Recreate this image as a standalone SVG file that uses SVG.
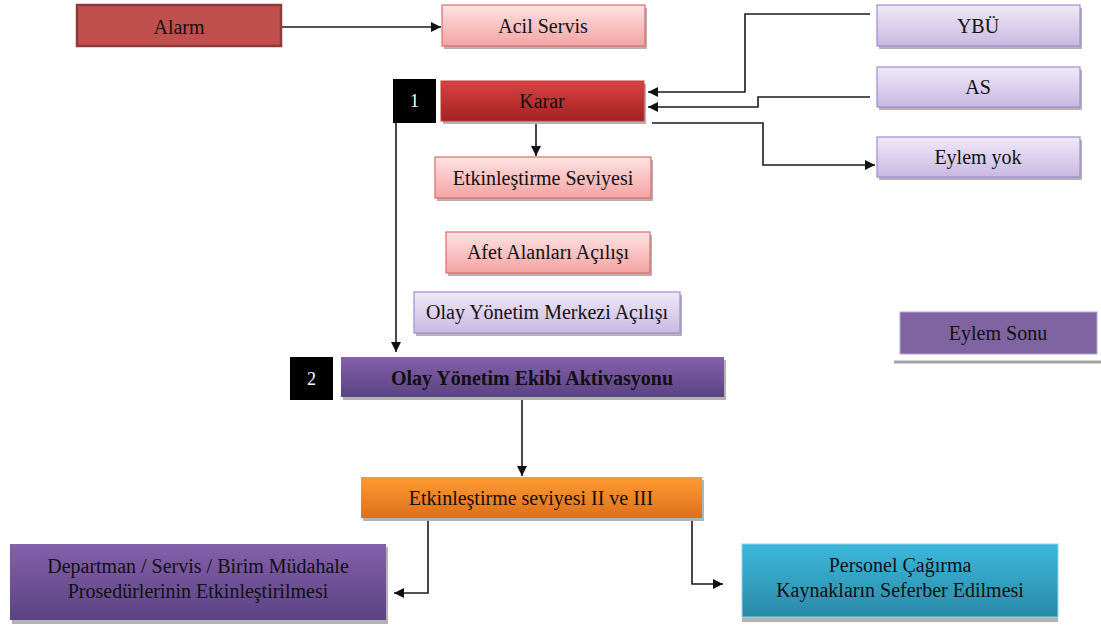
<svg xmlns="http://www.w3.org/2000/svg" width="1101" height="628" viewBox="0 0 1101 628">
  <style>
    text { font-family: "Liberation Serif", Tinos, "Times New Roman", "DejaVu Serif", serif; font-size: 20px; fill: #111; text-anchor: middle; }
    .num { fill: #fff; font-size: 18px; }
    .bold { font-weight: bold; }
    .shadow { fill: #b3b3b3; }
    .conn { fill: none; stroke: #1a1a1a; stroke-width: 1.6; }
  </style>
  <defs>
    <linearGradient id="gPink" x1="0" y1="0" x2="0" y2="1">
      <stop offset="0" stop-color="#ffe3e3"/>
      <stop offset="1" stop-color="#f4a3a3"/>
    </linearGradient>
    <linearGradient id="gRed" x1="0" y1="0" x2="0" y2="1">
      <stop offset="0" stop-color="#d84242"/>
      <stop offset="1" stop-color="#a52222"/>
    </linearGradient>
    <linearGradient id="gLav" x1="0" y1="0" x2="0" y2="1">
      <stop offset="0" stop-color="#efe9f7"/>
      <stop offset="1" stop-color="#c9b8e3"/>
    </linearGradient>
    <linearGradient id="gPurple" x1="0" y1="0" x2="0" y2="1">
      <stop offset="0" stop-color="#8560ab"/>
      <stop offset="1" stop-color="#5b4383"/>
    </linearGradient>
    <linearGradient id="gOrange" x1="0" y1="0" x2="0" y2="1">
      <stop offset="0" stop-color="#ff9b33"/>
      <stop offset="1" stop-color="#dd6f1a"/>
    </linearGradient>
    <linearGradient id="gTeal" x1="0" y1="0" x2="0" y2="1">
      <stop offset="0" stop-color="#3cb8dc"/>
      <stop offset="1" stop-color="#2a8aa8"/>
    </linearGradient>
    <marker id="arrow" viewBox="0 0 10 10" refX="10" refY="5" markerWidth="10" markerHeight="10" markerUnits="userSpaceOnUse" orient="auto">
      <path d="M0,0 L10,5 L0,10 Z" fill="#111"/>
    </marker>
  </defs>

  <rect width="1101" height="628" fill="#fff"/>

  <!-- connectors -->
  <g id="connectors">
    <path class="conn" d="M281,27 H441" marker-end="url(#arrow)"/>
    <path class="conn" d="M870,14 H745 V92 H648" marker-end="url(#arrow)"/>
    <path class="conn" d="M870,97 H758 V107 H648" marker-end="url(#arrow)"/>
    <path class="conn" d="M652,123 H763 V165 H875" marker-end="url(#arrow)"/>
    <path class="conn" d="M536,121 V156" marker-end="url(#arrow)"/>
    <path class="conn" d="M396,123 V352" marker-end="url(#arrow)"/>
    <path class="conn" d="M522,400 V476" marker-end="url(#arrow)"/>
    <path class="conn" d="M464,519 H428 V593 H394" marker-end="url(#arrow)"/>
    <path class="conn" d="M660,519 H692 V584 H723" marker-end="url(#arrow)"/>
  </g>

  <g id="alarm">
    <rect x="77" y="5" width="204" height="41" fill="#c0504d" stroke="#8e3a38" stroke-width="2.5"/>
    <text x="179" y="34">Alarm</text>
  </g>

  <g id="acil-servis">
    <rect class="shadow" x="444" y="8" width="203" height="41"/>
    <rect x="442" y="5" width="203" height="41" fill="url(#gPink)" stroke="#e06a6a" stroke-width="1.2"/>
    <text x="543" y="33">Acil Servis</text>
  </g>

  <g id="step-1">
    <rect x="393" y="79" width="43" height="44" fill="#000"/>
    <text class="num" x="414.5" y="107">1</text>
  </g>

  <g id="karar">
    <rect class="shadow" x="443" y="84" width="203" height="40"/>
    <rect x="441" y="81" width="203" height="40" fill="url(#gRed)" stroke="#c43a3a" stroke-width="1"/>
    <text x="542" y="108">Karar</text>
  </g>

  <g id="ybu">
    <rect class="shadow" x="879" y="8" width="203" height="41"/>
    <rect x="877" y="5" width="203" height="41" fill="url(#gLav)" stroke="#a48bd0" stroke-width="1.2"/>
    <text x="978" y="33">YBÜ</text>
  </g>

  <g id="as">
    <rect class="shadow" x="879" y="70" width="203" height="40"/>
    <rect x="877" y="67" width="203" height="40" fill="url(#gLav)" stroke="#a48bd0" stroke-width="1.2"/>
    <text x="978" y="94">AS</text>
  </g>

  <g id="eylem-yok">
    <rect class="shadow" x="879" y="140" width="203" height="40"/>
    <rect x="877" y="137" width="203" height="40" fill="url(#gLav)" stroke="#a48bd0" stroke-width="1.2"/>
    <text x="978" y="164">Eylem yok</text>
  </g>

  <g id="etkinlestirme-seviyesi">
    <rect class="shadow" x="437" y="160" width="216" height="41"/>
    <rect x="435" y="157" width="216" height="41" fill="url(#gPink)" stroke="#e06a6a" stroke-width="1.2"/>
    <text x="543" y="185">Etkinleştirme Seviyesi</text>
  </g>

  <g id="afet-alanlari">
    <rect class="shadow" x="448" y="235" width="204" height="41"/>
    <rect x="446" y="232" width="204" height="41" fill="url(#gPink)" stroke="#e06a6a" stroke-width="1.2"/>
    <text x="548" y="259">Afet Alanları Açılışı</text>
  </g>

  <g id="olay-yonetim-merkezi">
    <rect class="shadow" x="416" y="295" width="266" height="41"/>
    <rect x="414" y="292" width="266" height="41" fill="url(#gLav)" stroke="#a48bd0" stroke-width="1.2"/>
    <text x="547" y="319">Olay Yönetim Merkezi Açılışı</text>
  </g>

  <g id="eylem-sonu">
    <rect x="900" y="312" width="197" height="42" fill="#8064a2" stroke="#b8a6d4" stroke-width="1"/>
    <text x="998" y="340">Eylem Sonu</text>
    <line x1="894" y1="362" x2="1101" y2="362" stroke="#a3a3a3" stroke-width="3"/>
  </g>

  <g id="step-2">
    <rect x="290" y="357" width="43" height="43" fill="#000"/>
    <text class="num" x="311.5" y="385">2</text>
  </g>

  <g id="olay-yonetim-ekibi">
    <rect class="shadow" x="343" y="360" width="383" height="40"/>
    <rect x="341" y="357" width="383" height="40" fill="url(#gPurple)"/>
    <text class="bold" x="532" y="385">Olay Yönetim Ekibi Aktivasyonu</text>
  </g>

  <g id="seviye-2-3">
    <rect class="shadow" x="363" y="480" width="341" height="41"/>
    <rect x="361" y="477" width="341" height="41" fill="url(#gOrange)"/>
    <text x="531" y="505">Etkinleştirme seviyesi II ve III</text>
  </g>

  <g id="departman">
    <rect class="shadow" x="12" y="547" width="376" height="77"/>
    <rect x="10" y="544" width="376" height="76" fill="url(#gPurple)"/>
    <text x="198" y="573">Departman / Servis / Birim Müdahale</text>
    <text x="198" y="598">Prosedürlerinin Etkinleştirilmesi</text>
  </g>

  <g id="personel">
    <rect class="shadow" x="742" y="547" width="316" height="75"/>
    <rect x="742" y="544" width="316" height="73" fill="url(#gTeal)" stroke="#8fd5ea" stroke-width="1"/>
    <text x="900" y="572">Personel Çağırma</text>
    <text x="900" y="597">Kaynakların Seferber Edilmesi</text>
  </g>
</svg>
